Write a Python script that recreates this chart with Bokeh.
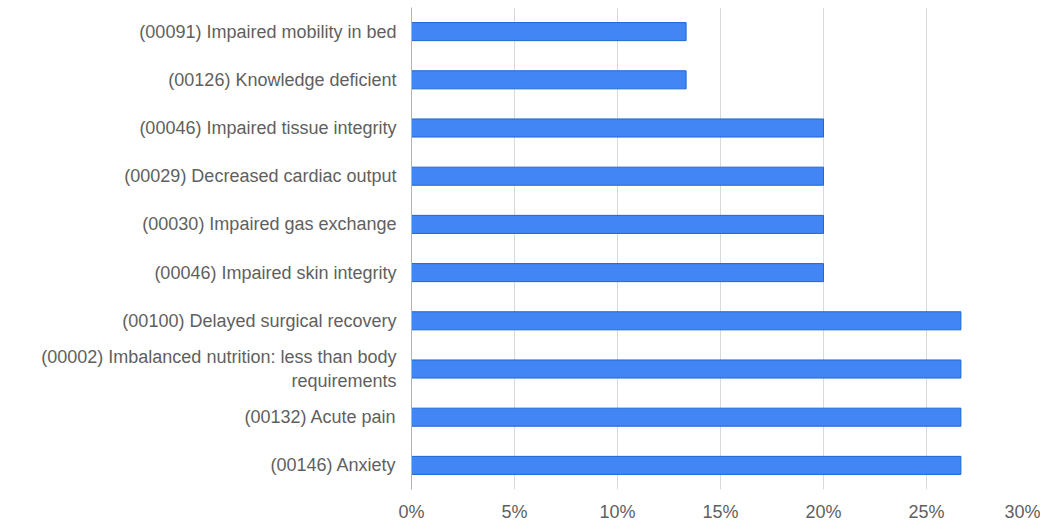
from bokeh.plotting import figure
from bokeh.models import FactorRange, Range1d, NumeralTickFormatter, FixedTicker, ColumnDataSource
from bokeh.embed import file_html
from bokeh.resources import INLINE

categories = [
    "(00091) Impaired mobility in bed",
    "(00126) Knowledge deficient",
    "(00046) Impaired tissue integrity",
    "(00029) Decreased cardiac output",
    "(00030) Impaired gas exchange",
    "(00046) Impaired skin integrity",
    "(00100) Delayed surgical recovery",
    "(00002) Imbalanced nutrition: less than body\nrequirements",
    "(00132) Acute pain",
    "(00146) Anxiety",
]
values = [0.1333, 0.1333, 0.20, 0.20, 0.20, 0.20, 0.2667, 0.2667, 0.2667, 0.2667]
x_ticks = [0, 0.05, 0.10, 0.15, 0.20, 0.25, 0.30]

src = ColumnDataSource(dict(cat=categories, val=values))

p = figure(
    width=1040, height=524,
    y_range=FactorRange(factors=list(reversed(categories))),
    x_range=Range1d(0, 0.30),
    output_backend="svg", toolbar_location=None,
    min_border_left=411, min_border_right=11, min_border_top=7, min_border_bottom=30,
)
p.hbar(y="cat", right="val", left=0, height=0.375, source=src,
       fill_color="#4285f4", line_color="#1e68d2", line_width=1)

p.outline_line_color = None
p.ygrid.grid_line_color = None
p.xgrid.grid_line_color = "#d9d9d9"
p.xgrid.grid_line_width = 1

p.xaxis.ticker = FixedTicker(ticks=x_ticks)
p.xaxis.formatter = NumeralTickFormatter(format="0%")
for ax in (p.xaxis, p.yaxis):
    ax.major_tick_line_color = None
    ax.minor_tick_line_color = None
    ax.major_label_text_font = "Liberation Sans"
    ax.major_label_text_font_size = "18px"
    ax.major_label_text_color = "#5f5f5f"
p.xaxis.axis_line_color = None
p.yaxis.axis_line_color = "#b3b3b3"
p.xaxis.major_label_standoff = 6
p.yaxis.major_label_standoff = 9

open("out.html", "w").write(file_html(p, INLINE))
